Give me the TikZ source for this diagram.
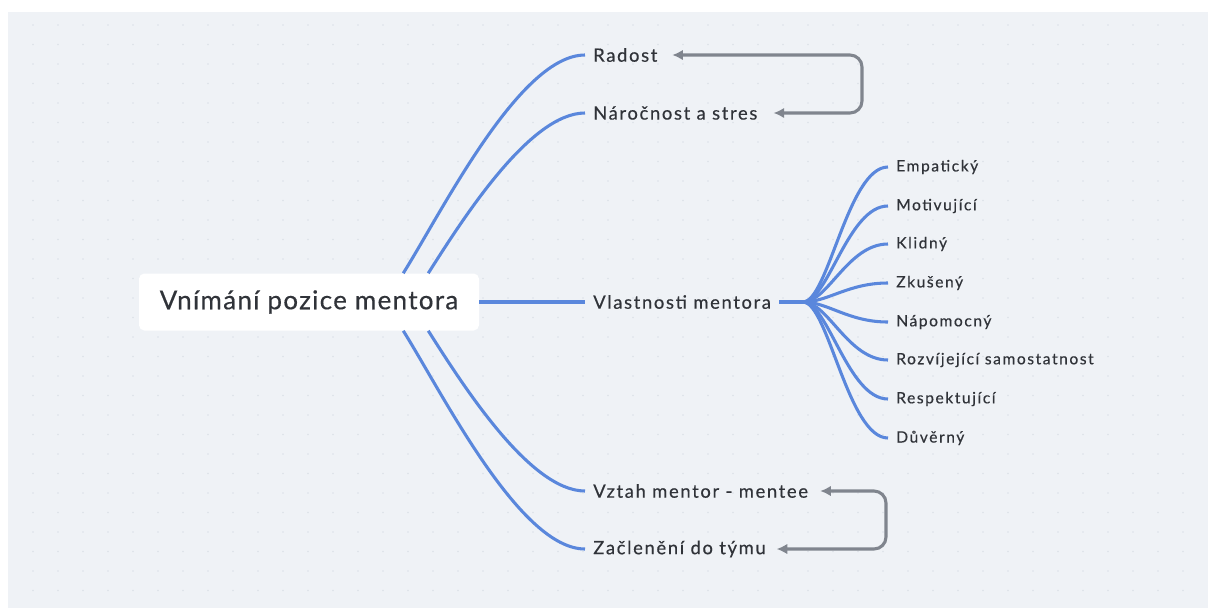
\documentclass[tikz,border=0pt]{standalone}
\usepackage{fontspec}
\setmainfont{Lato}
\newfontfamily\rootfont{Lato}[LetterSpace=5, FakeBold=0.4]
\newfontfamily\topicfont{Lato}[LetterSpace=9, FakeBold=0.4]
\newfontfamily\traitfont{Lato}[LetterSpace=10, FakeBold=0.4]
\usetikzlibrary{positioning, arrows.meta, calc}
\definecolor{canvas}{RGB}{239,242,246}
\definecolor{griddot}{RGB}{220,225,232}
\definecolor{branch}{RGB}{90,135,220}
\definecolor{linkgray}{RGB}{128,133,142}
\definecolor{inktext}{RGB}{48,51,57}

\begin{document}
\begin{tikzpicture}[
  x=0.75pt, y=-0.75pt,
  rootbox/.style={rectangle, fill=white, rounded corners=4pt,
                  minimum width=255pt, minimum height=42.75pt,
                  text=inktext, font=\rootfont\fontsize{19.5}{21}\selectfont},
  topic/.style={anchor=west, inner xsep=6pt, inner ysep=2pt,
                text=inktext, font=\topicfont\fontsize{13.8}{15}\selectfont},
  trait/.style={anchor=west, inner xsep=6pt, inner ysep=2pt,
                text=inktext, font=\traitfont\fontsize{11.7}{13}\selectfont},
  branchline/.style={draw=branch, line width=2.3pt},
  link/.style={{Latex[length=8pt, width=8pt]}-{Latex[length=8pt, width=8pt]},
               draw=linkgray, line width=2.3pt, rounded corners=9pt}
]

% ===== CANVAS =====
\useasboundingbox (0,0) rectangle (1208,608);
\fill[white] (0,0) rectangle (1208,608);
\fill[canvas] (8,12) rectangle (1208,608);
\foreach \x in {33,58,...,1200}{
  \foreach \y in {25,44.5,...,600}{
    \fill[griddot] (\x,\y) circle (0.9);
  }
}

% ===== NODES =====
\node[rootbox] (root) at (309,302) {Vnímání pozice mentora};

\node[topic] (radost) at (585,55) {Radost};
\node[topic] (narocnost) at (585,113) {Náročnost a stres};
\node[topic] (vlastnosti) at (585,302) {Vlastnosti mentora};
\node[topic] (vztah) at (585,491) {Vztah mentor - mentee};
\node[topic] (zacleneni) at (585,549) {Začlenění do týmu};

\coordinate (hub) at (803,302);
\foreach \n/\t/\y in {t1/Empatický/167, t2/Motivující/206, t3/Klidný/244,
                      t4/Zkušený/283, t5/Nápomocný/322,
                      t6/Rozvíjející samostatnost/360, t7/Respektující/399,
                      t8/Důvěrný/438}{
  \node[trait] (\n) at (888,\y) {\t};
}

% ===== BRANCHES =====
\draw[branchline] ($(root.north east)+(-76,0)$) .. controls +(40,-64) and +(-65,0) .. (radost.west);
\draw[branchline] ($(root.north east)+(-51,0)$) .. controls +(35,-55) and +(-55,0) .. (narocnost.west);
\draw[branchline] (root.east) -- (vlastnosti.west);
\draw[branchline] ($(root.south east)+(-51,0)$) .. controls +(35,55) and +(-55,0) .. (vztah.west);
\draw[branchline] ($(root.south east)+(-76,0)$) .. controls +(40,64) and +(-65,0) .. (zacleneni.west);

\draw[branchline] (vlastnosti.east) -- (hub);
\foreach \n in {t1,t2,t3,t4,t5,t6,t7,t8}{
  \draw[branchline] (hub) .. controls +(25,0) and +(-40,0) .. (\n.west);
}

% ===== RELATIONS =====
\coordinate (upturn) at (862,0);
\coordinate (lowturn) at (886,0);
\draw[link, shorten <=5pt, shorten >=6pt] (radost.east) -- (radost.east -| upturn)
  -- (narocnost.east -| upturn) -- (narocnost.east);
\draw[link, shorten <=3pt, shorten >=2pt] (vztah.east) -- (vztah.east -| lowturn)
  -- (zacleneni.east -| lowturn) -- (zacleneni.east);

\end{tikzpicture}
\end{document}
